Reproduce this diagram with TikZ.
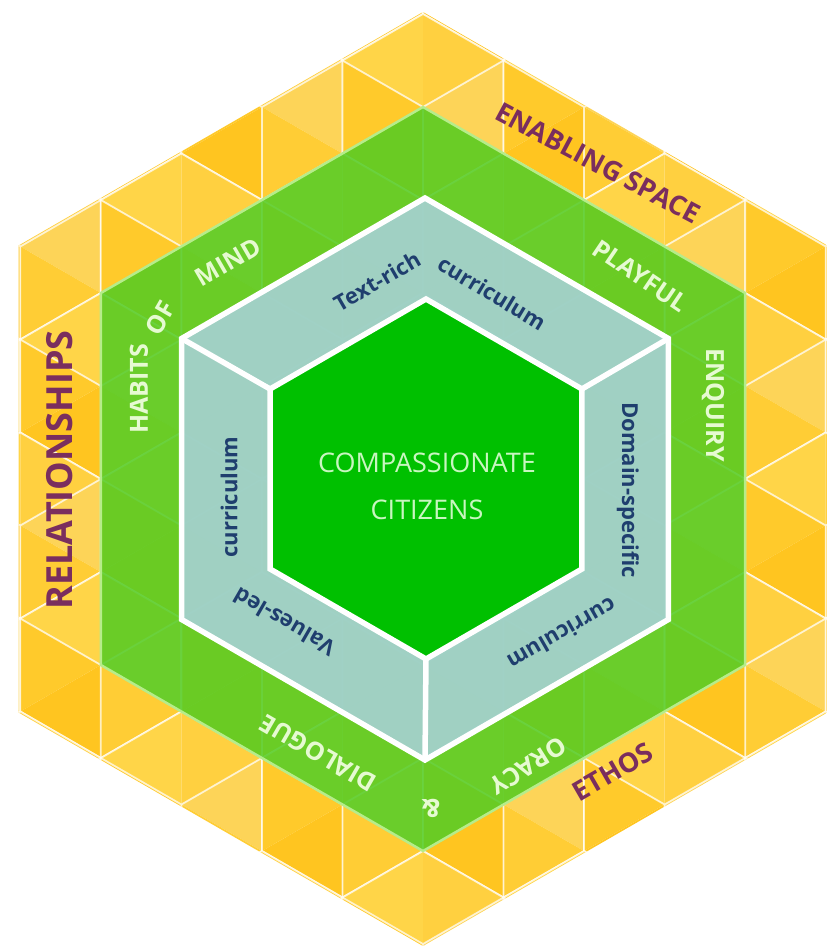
\documentclass[tikz,border=0pt]{standalone}
\usepackage{fontspec}
\setmainfont{Open Sans}
\usetikzlibrary{calc}

% palette
\definecolor{goldA}{HTML}{FFD548}
\definecolor{goldB}{HTML}{FFD040}
\definecolor{goldC}{HTML}{FFCA2B}
\definecolor{goldD}{HTML}{FFC520}
\definecolor{goldE}{HTML}{FDD458}
\definecolor{goldF}{HTML}{FFCD35}
\definecolor{bandgreen}{HTML}{52CC24}
\definecolor{bandedge}{HTML}{B6EC8A}
\definecolor{facegray}{HTML}{A6D1D4}
\definecolor{coregreen}{HTML}{00C000}
\definecolor{plum}{HTML}{7A2E5E}
\definecolor{navy}{HTML}{1F3E6E}
\definecolor{bandtxt}{HTML}{E6FAD2}
\definecolor{coretxt}{HTML}{C8F6C0}

% pointy-top hexagon: centre x, centre y, circumradius
\newcommand\hexat[3]{(#1,#2-#3) -- (#1+0.866025*#3,#2-0.5*#3) -- (#1+0.866025*#3,#2+0.5*#3) -- (#1,#2+#3) -- (#1-0.866025*#3,#2+0.5*#3) -- (#1-0.866025*#3,#2-0.5*#3) -- cycle}

\def\hx{423}
\def\hy{479}
\def\side{93}
\pgfmathsetmacro\colw{\side*0.866025}

\begin{document}
\begin{tikzpicture}[x=1pt,y=-1pt,
  tileline/.style={white,opacity=0.72,line width=1.8pt,line join=round},
  frameline/.style={white,line width=5.5pt,line join=miter},
  bandtext/.style={text=bandtxt,font=\bfseries\fontsize{25}{25}\selectfont,inner sep=0pt},
  frametext/.style={text=plum,font=\bfseries\fontsize{27}{27}\selectfont,inner sep=0pt},
  facetext/.style={text=navy,font=\bfseries\fontsize{22}{22}\selectfont,inner sep=0pt},
  coretext/.style={text=coretxt,font=\fontsize{27}{27}\selectfont,inner sep=0pt}]
\useasboundingbox (0,0) rectangle (827,946);

% tumbling-block tiling of the outer hexagon
\begin{scope}
\clip \hexat{\hx}{\hy}{467};
\foreach \j in {-1,...,6}{
  \foreach \i in {-7,...,7}{
    \pgfmathsetmacro\px{\hx+(2*\i+\j)*\colw}
    \pgfmathsetmacro\py{\hy-4*\side+1.5*\j*\side}
    \path (\px,\py) coordinate (C)
      +(0,-\side) coordinate (T)
      +(\colw,-0.5*\side) coordinate (UR)
      +(\colw,0.5*\side) coordinate (LR)
      +(0,\side) coordinate (B)
      +(-\colw,0.5*\side) coordinate (LL)
      +(-\colw,-0.5*\side) coordinate (UL);
    \fill[goldA] (C) -- (UL) -- (T) -- cycle;
    \fill[goldB] (C) -- (T) -- (UR) -- cycle;
    \fill[goldC] (C) -- (UL) -- (LL) -- cycle;
    \fill[goldD] (C) -- (LL) -- (B) -- cycle;
    \fill[goldE] (C) -- (UR) -- (LR) -- cycle;
    \fill[goldF] (C) -- (LR) -- (B) -- cycle;
    \draw[tileline] (UL) -- (T) -- (UR) -- (LR) -- (B) -- (LL) -- cycle;
    \draw[tileline] (UL) -- (C) -- (UR) (C) -- (B);
  }
}
\end{scope}

% green band
\fill[bandgreen,opacity=0.86] \hexat{\hx}{\hy}{372};
\draw[bandedge,line width=2.5pt] \hexat{\hx}{\hy}{372};

% curriculum faces and core
\fill[facegray,opacity=0.9] \hexat{425}{479}{281};
\fill[coregreen] \hexat{426}{479}{180};

% frame corners
\path (425,198) coordinate (bT) (668.4,338.5) coordinate (bUR)
      (668.4,619.5) coordinate (bLR) (425,760) coordinate (bB)
      (181.6,619.5) coordinate (bLL) (181.6,338.5) coordinate (bUL);
\path (426,299) coordinate (iT) (581.9,389) coordinate (iUR)
      (581.9,569) coordinate (iLR) (426,659) coordinate (iB)
      (270.1,569) coordinate (iLL) (270.1,389) coordinate (iUL);

\draw[frameline] (bT) -- (bUR) -- (bLR) -- (bB) -- (bLL) -- (bUL) -- cycle;
\draw[frameline] (iT) -- (iUR) -- (iLR) -- (iB) -- (iLL) -- (iUL) -- cycle;
\draw[frameline] (bUL) -- (iUL);
\draw[frameline] (bUR) -- (iUR);
\draw[frameline] (bB) -- (iB);

% outer ring labels
\node[frametext,rotate=-28] (space) at (598,163) {ENABLING SPACE};
\node[frametext,rotate=90,font=\bfseries\fontsize{36}{36}\selectfont] (rel) at (60,470) {RELATIONSHIPS};
\node[frametext,rotate=30] (ethos) at (613,772) {ETHOS};

% band labels
\node[bandtext,rotate=90] (habits) at (139,389) {HABITS};
\node[bandtext,rotate=60] (of) at (160,318) {OF};
\node[bandtext,rotate=30] (mind) at (228,262) {MIND};
\node[bandtext,rotate=-34] (playful) at (640,276) {PLAYFUL};
\node[bandtext,rotate=-90] (enquiry) at (713,405) {ENQUIRY};
\node[bandtext,rotate=212] (oracy) at (528,766) {ORACY};
\node[bandtext,rotate=180] (amp) at (431,808) {\&};
\node[bandtext,rotate=150] (dialogue) at (318,753) {DIALOGUE};

% face labels
\node[facetext,rotate=30] (textrich) at (377,281) {Text-rich};
\node[facetext,rotate=-31] (currtop) at (492,293) {curriculum};
\node[facetext,rotate=-90] (domain) at (628,490) {Domain-specific};
\node[facetext,rotate=210] (currright) at (562,634) {curriculum};
\node[facetext,rotate=150] (values) at (284,622) {Values-led};
\node[facetext,rotate=90] (currleft) at (229,497) {curriculum};

% core label
\node[coretext] (comp) at (427,463) {COMPASSIONATE};
\node[coretext] (cit) at (427,510) {CITIZENS};
\end{tikzpicture}
\end{document}
